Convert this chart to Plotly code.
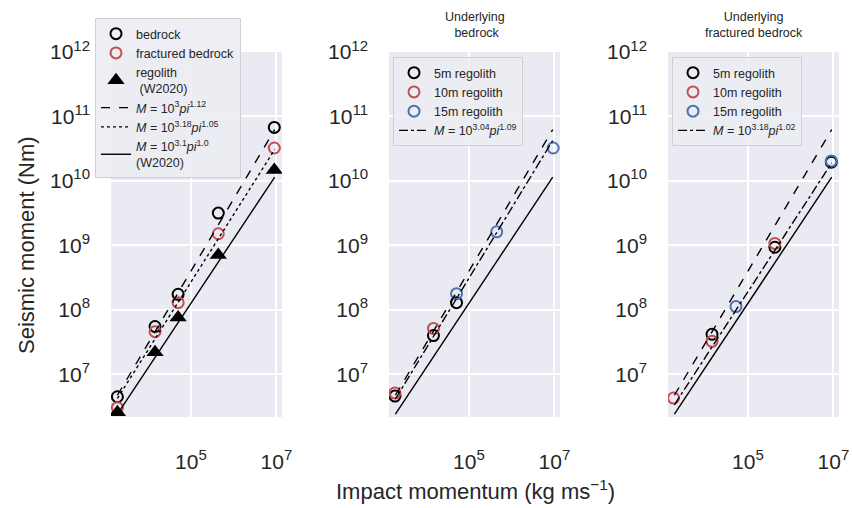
import numpy as np
import plotly.graph_objects as go

# ---------------- data (log10 values) ----------------
# Panel 1
p1_pi = [3.28, 4.16, 4.70, 5.64, 6.95]
p1_bedrock = [6.65, 7.74, 8.24, 9.50, 10.83]
p1_fractured = [6.48, 7.66, 8.11, 9.18, 10.51]
p1_regolith = [6.41, 7.34, 7.88, 8.85, 10.17]

# Panel 2 (underlying bedrock)
p2_pi_5m = [3.27, 4.17, 4.71]
p2_5m = [6.66, 7.60, 8.11]
p2_pi_10m = [3.27, 4.17]
p2_10m = [6.71, 7.71]
p2_pi_15m = [4.71, 5.65, 6.97]
p2_15m = [8.25, 9.21, 10.51]

# Panel 3 (underlying fractured bedrock)
p3_pi_5m = [4.16, 5.63, 6.95]
p3_5m = [7.62, 8.97, 10.29]
p3_pi_10m = [3.26, 4.16, 5.63]
p3_10m = [6.63, 7.51, 9.03]
p3_pi_15m = [4.72, 6.95]
p3_15m = [8.05, 10.31]

# fit lines: (log10 prefactor, exponent)
fit_bedrock = (3.0, 1.12)
fit_fractured = (3.18, 1.05)
fit_w2020 = (3.1, 1.0)
fit_p2 = (3.04, 1.09)
fit_p3 = (3.18, 1.02)
line_pi_range = [3.28, 6.96]

SUP = "10<sup><span style='font-size:15px'>%d</span></sup>"
xticks = [1e5, 1e7]
xticktext = [SUP % 5, SUP % 7]
yticks = [1e7, 1e8, 1e9, 1e10, 1e11, 1e12]
yticktext = [SUP % e for e in range(7, 13)]

# ---------------- style ----------------
BLACK = "#000000"
RED = "#c44e52"
BLUE = "#4c72b0"
FONT = "Liberation Sans, Arial, sans-serif"
W, H = 852, 508


def pw(v):
    return [10 ** a for a in v]


def fit_line(fit):
    a, b = fit
    lx = np.array(line_pi_range)
    return 10 ** lx, 10 ** (a + b * lx)


fig = go.Figure()


def circles(x, y, color, name, ax, legend):
    fig.add_trace(go.Scatter(
        x=pw(x), y=pw(y), mode="markers", name=name,
        marker=dict(symbol="circle-open", size=11, color=color, line=dict(width=2, color=color)),
        xaxis="x" + ax, yaxis="y" + ax, legend=legend))


def fitline(fit, dash, name, ax, legend, show=True):
    lx, ly = fit_line(fit)
    fig.add_trace(go.Scatter(
        x=lx, y=ly, mode="lines", name=name, showlegend=show,
        line=dict(color="black", width=1.4, dash=dash),
        xaxis="x" + ax, yaxis="y" + ax, legend=legend))


M = "<i>M</i> = 10<sup>%s</sup><i>pi</i><sup>%s</sup>"

# panel 1
circles(p1_pi, p1_bedrock, BLACK, "bedrock", "", "legend")
circles(p1_pi, p1_fractured, RED, "fractured bedrock", "", "legend")
fig.add_trace(go.Scatter(
    x=pw(p1_pi), y=pw(p1_regolith), mode="markers", name="regolith<br> (W2020)",
    marker=dict(symbol="triangle-up", size=15, color="black"),
    xaxis="x", yaxis="y", legend="legend"))
fitline(fit_bedrock, "dash", M % ("3", "1.12"), "", "legend")
fitline(fit_fractured, "dot", M % ("3.18", "1.05"), "", "legend")
fitline(fit_w2020, "solid", (M % ("3.1", "1.0")) + "<br>(W2020)", "", "legend")

# panel 2
circles(p2_pi_5m, p2_5m, BLACK, "5m regolith", "2", "legend2")
circles(p2_pi_10m, p2_10m, RED, "10m regolith", "2", "legend2")
circles(p2_pi_15m, p2_15m, BLUE, "15m regolith", "2", "legend2")
fitline(fit_bedrock, "dash", "", "2", "legend2", show=False)
fitline(fit_p2, "dashdot", M % ("3.04", "1.09"), "2", "legend2")
fitline(fit_w2020, "solid", "", "2", "legend2", show=False)

# panel 3
circles(p3_pi_5m, p3_5m, BLACK, "5m regolith", "3", "legend3")
circles(p3_pi_10m, p3_10m, RED, "10m regolith", "3", "legend3")
circles(p3_pi_15m, p3_15m, BLUE, "15m regolith", "3", "legend3")
fitline(fit_bedrock, "dash", "", "3", "legend3", show=False)
fitline(fit_p3, "dashdot", M % ("3.18", "1.02"), "3", "legend3")
fitline(fit_w2020, "solid", "", "3", "legend3", show=False)

xdoms = [[111 / W, 282 / W], [389 / W, 560 / W], [668 / W, 839 / W]]
ydom = [1 - 417 / H, 1 - 52 / H]

axis_common = dict(type="log", showgrid=True, gridcolor="white", gridwidth=1.6,
                   zeroline=False, showline=False, ticks="", automargin=False,
                   tickfont=dict(family=FONT, size=21, color="#262626"))

layout = dict(
    width=W, height=H, margin=dict(l=0, r=0, t=0, b=0, autoexpand=False),
    paper_bgcolor="white", plot_bgcolor="#eaeaf2",
    font=dict(family=FONT, color="#262626"),
    showlegend=True,
)
for i, suf in enumerate(["", "2", "3"]):
    layout["xaxis" + suf] = dict(axis_common, domain=xdoms[i], range=[3.13, 7.13],
                                 tickmode="array", tickvals=xticks, ticktext=xticktext,
                                 anchor="y" + suf, ticklabelstandoff=30)
    layout["yaxis" + suf] = dict(axis_common, domain=ydom, range=[6.336, 12.0],
                                 tickmode="array", tickvals=yticks, ticktext=yticktext,
                                 anchor="x" + suf, ticklabelstandoff=20)

leg_common = dict(bgcolor="rgba(236,236,243,0.9)", bordercolor="#cfcfd4", borderwidth=1,
                  font=dict(family=FONT, size=12.5, color="#262626"),
                  xanchor="left", yanchor="top", tracegroupgap=0, itemwidth=30)
layout["legend"] = dict(leg_common, x=95 / W, y=1 - 18 / H)
layout["legend2"] = dict(leg_common, x=393 / W, y=1 - 57 / H)
layout["legend3"] = dict(leg_common, x=672 / W, y=1 - 57 / H)

fig.update_layout(**layout)

ann = [
    dict(text="Underlying<br> bedrock", x=(389 + 560) / 2 / W, y=1 - 42 / H,
         xanchor="center", yanchor="bottom", font=dict(size=12.5)),
    dict(text="Underlying<br>fractured bedrock", x=(668 + 839) / 2 / W, y=1 - 42 / H,
         xanchor="center", yanchor="bottom", font=dict(size=12.5)),
    dict(text="Seismic moment (Nm)", x=26 / W, y=1 - 245 / H, textangle=-90,
         xanchor="center", yanchor="middle", font=dict(size=22)),
    dict(text="Impact momentum (kg ms<sup>\u22121</sup>)", x=476 / W, y=1 - 490 / H,
         xanchor="center", yanchor="middle", font=dict(size=22)),
]
for a in ann:
    a.update(xref="paper", yref="paper", showarrow=False)
    a["font"].update(family=FONT, color="#262626")
fig.update_layout(annotations=ann)

fig.write_html("out.html", config={"displayModeBar": False},
               post_script="document.body.style.margin='0';document.body.style.padding='0';")
